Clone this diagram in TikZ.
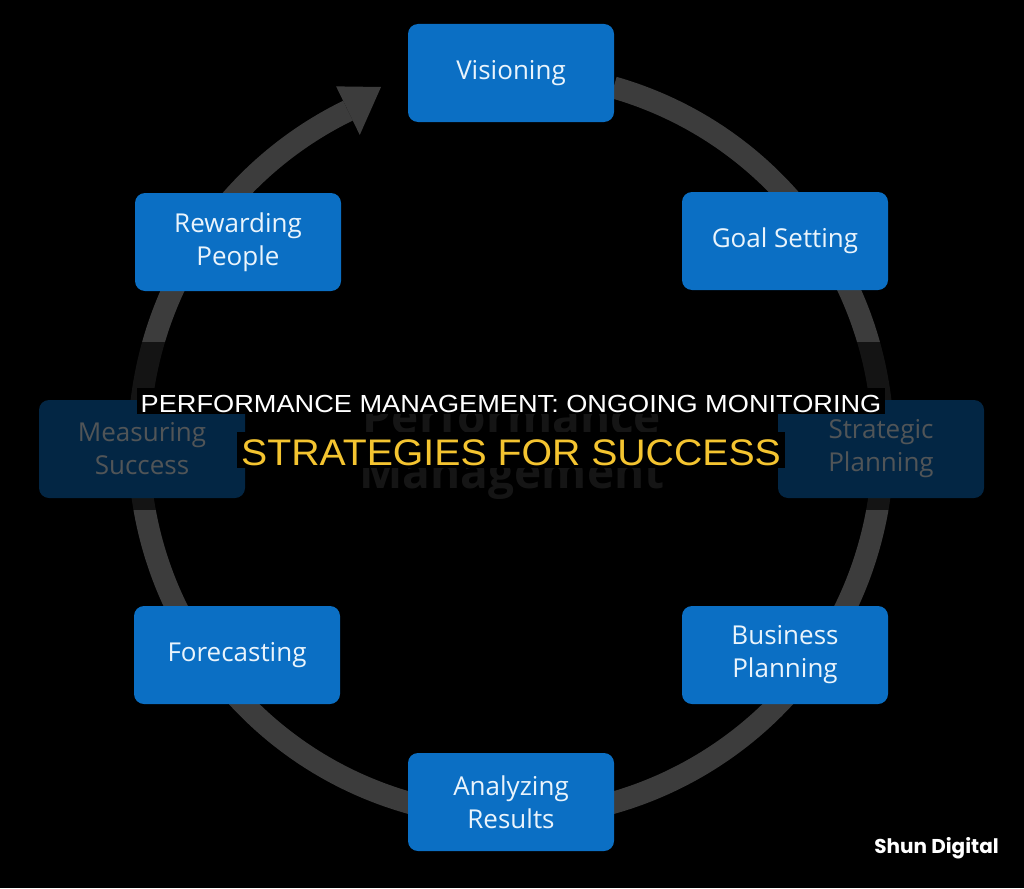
\documentclass[tikz,border=0pt]{standalone}
\usepackage{fontspec}
\setmainfont{Open Sans}
\newfontfamily\titlefont{Liberation Sans}
\newfontfamily\markfont{Poppins}
\usetikzlibrary{calc}
\definecolor{boxblue}{HTML}{0B6FC4}
\definecolor{boxtext}{HTML}{EAF4FC}
\definecolor{ringgray}{HTML}{3C3C3C}
\definecolor{titleyellow}{HTML}{F4C430}
\definecolor{dimtext}{HTML}{3E3E3E}
\begin{document}
\begin{tikzpicture}[x=1pt,y=-1pt,
  stagebox/.style={fill=boxblue, rounded corners=10pt, minimum width=206pt,
    minimum height=98pt, text=boxtext, align=center, inner sep=0pt,
    font=\fontsize{26}{33}\selectfont},
  dimword/.style={text=dimtext, anchor=base, font=\bfseries\fontsize{46}{46}\selectfont},
  titlebg/.style={fill=black, inner xsep=4pt, inner ysep=0pt, anchor=base}]
\fill[black] (0,0) rectangle (1024,888);
\useasboundingbox (0,0) rectangle (1024,888);
\coordinate (C) at (511,445);
% ring with arrow
\draw[ringgray, line width=22pt] ($(C)+(-74:372)$) arc[start angle=-74, end angle=244, radius=372];
\coordinate (tip) at (381,87);
\fill[ringgray] ($(C)+(244:399)$) -- (tip) -- ($(C)+(244:345)$) -- cycle;
% stage boxes
\node[stagebox] (vis) at (511,73) {Visioning};
\node[stagebox] (goal) at (785,241) {Goal Setting};
\node[stagebox] (strat) at (881,449) {Strategic\\Planning};
\node[stagebox] (bus) at (785,655) {Business\\Planning};
\node[stagebox] (ana) at (511,802) {Analyzing\\Results};
\node[stagebox] (fore) at (237,655) {Forecasting};
\node[stagebox] (meas) at (142,449) {Measuring\\Success};
\node[stagebox] (rew) at (238,242) {Rewarding\\People};
% centre label
\node[dimword] (pm1) at (512,433) {Performance};
\node[dimword] (pm2) at (512,488) {Management};
% dark band
\fill[black, opacity=0.65] (0,342) rectangle (1024,510);
% title
\node[titlebg, text height=24.5pt, text depth=1.5pt, text=white,
  font=\titlefont\fontsize{24.7}{24.7}\selectfont] (t1) at (511,412.7)
  {\scalebox{1.10}[1]{PERFORMANCE MANAGEMENT: ONGOING MONITORING}};
\node[titlebg, text height=33.7pt, text depth=2.3pt, text=titleyellow,
  font=\titlefont\fontsize{37}{37}\selectfont] (t2) at (511,465.7)
  {\scalebox{1.06}[1]{STRATEGIES FOR SUCCESS}};
% watermark
\node[text=white, anchor=base east, inner sep=0pt,
  font=\markfont\bfseries\fontsize{20}{20}\selectfont] (wm) at (999,853) {Shun Digital};
\end{tikzpicture}
\end{document}
